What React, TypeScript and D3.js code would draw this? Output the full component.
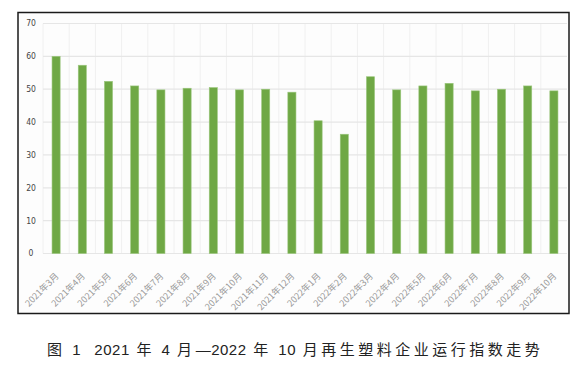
import { useEffect, useRef } from 'react'
import * as d3 from 'd3'

const categories = [
  '2021年3月', '2021年4月', '2021年5月', '2021年6月', '2021年7月', '2021年8月', '2021年9月',
  '2021年10月', '2021年11月', '2021年12月', '2022年1月', '2022年2月', '2022年3月', '2022年4月',
  '2022年5月', '2022年6月', '2022年7月', '2022年8月', '2022年9月', '2022年10月',
]
const values = [60, 57.3, 52.4, 51, 49.8, 50.3, 50.5, 49.8, 50, 49.1, 40.4, 36.3, 53.8, 49.8, 51, 51.8, 49.5, 50, 51, 49.5]
const yTicks = [0, 10, 20, 30, 40, 50, 60, 70]
const caption = '图 1  2021 年 4 月—2022 年 10 月再生塑料企业运行指数走势'

export default function App() {
  const svgRef = useRef<SVGSVGElement>(null)

  useEffect(() => {
    if (!svgRef.current) return
    const width = 588
    const height = 371
    const left = 43
    const right = 567
    const top = 23.5
    const bottom = 253.5

    const svg = d3.select(svgRef.current)
    svg.selectAll('*').remove()
    svg.attr('width', width).attr('height', height)

    const x = d3.scaleBand().domain(categories).range([left, right]).paddingInner(0.69).paddingOuter(0.345)
    const xb = d3.scaleBand().domain(categories).range([left, right])
    const y = d3.scaleLinear().domain([0, 70]).range([bottom, top])

    // plot background
    svg.append('rect')
      .attr('x', 18).attr('y', 12).attr('width', 551).attr('height', 302)
      .attr('fill', '#fdfdfd')

    // vertical grid
    svg.append('g')
      .selectAll('line')
      .data(categories)
      .enter()
      .append('line')
      .attr('x1', d => xb(d)!)
      .attr('x2', d => xb(d)!)
      .attr('y1', top)
      .attr('y2', bottom)
      .attr('stroke', '#f0f0f0')
      .attr('stroke-width', 1)

    // horizontal grid
    svg.append('g')
      .selectAll('line')
      .data(yTicks)
      .enter()
      .append('line')
      .attr('x1', left)
      .attr('x2', right)
      .attr('y1', d => y(d))
      .attr('y2', d => y(d))
      .attr('stroke', '#e6e6e6')
      .attr('stroke-width', 1.2)

    // y labels
    svg.append('g')
      .selectAll('text')
      .data(yTicks)
      .enter()
      .append('text')
      .attr('x', 31)
      .attr('y', d => y(d))
      .attr('dy', '0.35em')
      .attr('text-anchor', 'middle')
      .style('font-family', '"Liberation Sans Narrow", "DejaVu Sans Condensed", sans-serif')
      .style('font-size', '8.5px')
      .style('fill', '#444')
      .text(d => d)

    // bars
    svg.append('g')
      .selectAll('rect')
      .data(values)
      .enter()
      .append('rect')
      .attr('x', (d, i) => x(categories[i])!)
      .attr('y', d => y(d))
      .attr('width', x.bandwidth())
      .attr('height', d => y(0) - y(d))
      .attr('fill', '#6fa845')
      .attr('stroke', '#9cc77e')
      .attr('stroke-width', 0.6)

    // x labels
    svg.append('g')
      .selectAll('text')
      .data(categories)
      .enter()
      .append('text')
      .attr('transform', d => `translate(${xb(d)! + xb.bandwidth() / 2 + 1}, ${bottom + 21}) rotate(-45)`)
      .attr('text-anchor', 'end')
      .attr('dy', '0.35em')
      .style('font-family', '"Noto Sans CJK SC", sans-serif')
      .style('font-size', '9px')
      .style('fill', '#999')
      .text(d => d)

    // frame
    svg.append('rect')
      .attr('x', 18).attr('y', 12.5).attr('width', 551).attr('height', 301)
      .attr('fill', 'none')
      .attr('stroke', '#1a1a1a')
      .attr('stroke-width', 1.5)

    // caption: CJK runs spaced wider than digits
    const runs = caption.match(/[\u4e00-\u9fff]+|[^\u4e00-\u9fff]+/g) || []
    const cap = svg.append('text')
      .attr('x', 47)
      .attr('y', 350)
      .attr('dy', '0.35em')
      .style('font-family', '"Liberation Sans", "Noto Sans CJK SC", sans-serif')
      .style('font-size', '15px')
      .style('fill', '#222')
      .style('white-space', 'pre')
      .style('word-spacing', '2px')
    cap.selectAll('tspan')
      .data(runs)
      .enter()
      .append('tspan')
      .style('letter-spacing', d => (/[\u4e00-\u9fff]/.test(d) ? '3.5px' : '0.5px'))
      .text(d => d)
  }, [])

  return (
    <div style={{ position: 'absolute', left: 0, top: 0, background: '#fff' }}>
      <svg ref={svgRef} style={{ display: 'block' }}></svg>
    </div>
  )
}
